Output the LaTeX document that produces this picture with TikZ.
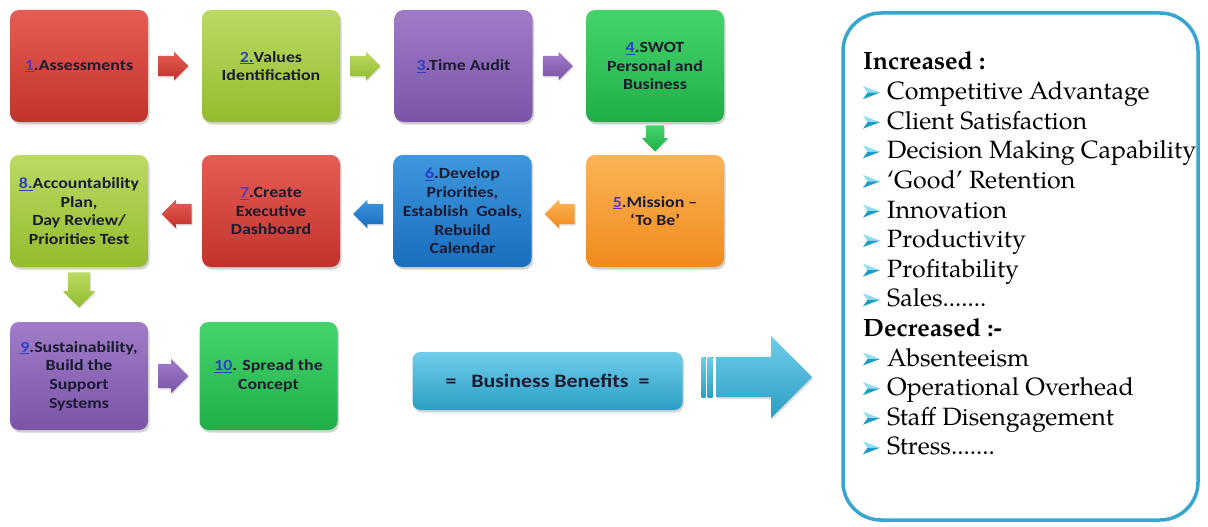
\documentclass[tikz,border=0pt]{standalone}
\usepackage{fontspec}
\newfontfamily\boxfont{Carlito}[FakeStretch=1.15]
\newfontfamily\listfont{texgyrepagella}[Extension=.otf,UprightFont=*-regular,BoldFont=*-bold]
\usetikzlibrary{shapes.arrows,shadows,calc}

% palette
\definecolor{redT}{HTML}{E65D55}\definecolor{redB}{HTML}{C2322C}
\definecolor{limeT}{HTML}{BBDA62}\definecolor{limeB}{HTML}{93BC2E}
\definecolor{violetT}{HTML}{A07CC8}\definecolor{violetB}{HTML}{7B54A8}
\definecolor{greenT}{HTML}{45D46C}\definecolor{greenB}{HTML}{20AE48}
\definecolor{orangeT}{HTML}{FBB457}\definecolor{orangeB}{HTML}{F08A1C}
\definecolor{blueT}{HTML}{3E97DE}\definecolor{blueB}{HTML}{196DBD}
\definecolor{cyanT}{HTML}{70CDEA}\definecolor{cyanB}{HTML}{2A9EC4}
\definecolor{panelline}{HTML}{36A6D0}
\definecolor{boxtext}{HTML}{1A1A30}
\definecolor{linkA}{HTML}{2E3FC8}
\definecolor{linkB}{HTML}{5B36C4}
\definecolor{bulletlight}{HTML}{8FDDF2}
\definecolor{bulletdark}{HTML}{1E9CC8}

\newcommand{\linknum}[2]{\textcolor{#1}{\underline{#2}}}
\newcommand{\dotrun}{.......}
% shaft thickness of a block arrow comes from its (empty) text box
\newcommand{\shaft}[1]{\rule{0pt}{#1}}
\newcommand{\vshaft}[1]{\rule{#1}{0pt}}

\tikzset{
  stepbox/.style={rounded corners=9pt, minimum width=138pt, minimum height=112pt,
    align=center, inner sep=2pt, text=boxtext,
    font=\boxfont\bfseries\fontsize{15.5}{18.7}\selectfont,
    drop shadow={opacity=0.35, shadow xshift=1.5pt, shadow yshift=-2.5pt}},
  redbox/.style={stepbox, top color=redT, bottom color=redB},
  limebox/.style={stepbox, top color=limeT, bottom color=limeB},
  violetbox/.style={stepbox, top color=violetT, bottom color=violetB},
  greenbox/.style={stepbox, top color=greenT, bottom color=greenB},
  orangebox/.style={stepbox, top color=orangeT, bottom color=orangeB},
  bluebox/.style={stepbox, top color=blueT, bottom color=blueB},
  flowarrow/.style={single arrow, single arrow head extend=4pt, minimum height=30pt,
    inner sep=0pt, drop shadow={opacity=0.25, shadow xshift=1pt, shadow yshift=-1.5pt}},
  listitem/.style={anchor=base west, inner sep=0pt, text=black,
    font=\listfont\fontsize{25}{29.6}\selectfont},
  listhead/.style={listitem, font=\listfont\bfseries\fontsize{25}{29.6}\selectfont},
  pics/arrowbullet/.style={code={
    \fill[bulletlight] (0,-6.5) -- (17,0) -- (4.5,0) -- cycle;
    \fill[bulletdark]  (4.5,0) -- (17,0) -- (0,6.5) -- cycle;
  }},
}

\begin{document}
\begin{tikzpicture}[x=1pt,y=-1pt]
\useasboundingbox[fill=white] (0,0) rectangle (1208,527);

% ---- step boxes ----
\node[redbox]    (b1) at (79,66)    {\linknum{linkB}{1}.Assessments};
\node[limebox]   (b2) at (271,66)   {\linknum{linkA}{2.}Values\\Identification};
\node[violetbox] (b3) at (463.5,66) {\linknum{linkA}{3}.Time Audit};
\node[greenbox]  (b4) at (655,66)   {\linknum{linkA}{4}.SWOT\\Personal and\\Business};
\node[orangebox] (b5) at (655,211)  {\linknum{linkB}{5}.Mission –\\‘To Be’};
\node[bluebox]   (b6) at (462.5,211){\linknum{linkA}{6}.Develop\\Priorities,\\Establish~~Goals,\\Rebuild\\Calendar};
\node[redbox]    (b7) at (271,211)  {\linknum{linkB}{7}.Create\\Executive\\Dashboard};
\node[limebox]   (b8) at (79,211)   {\linknum{linkA}{8.}Accountability\\Plan,\\Day Review/\\Priorities Test};
\node[violetbox, minimum height=108pt] (b9)  at (79,376)    {\linknum{linkA}{9}.Sustainability,\\Build the\\Support\\Systems};
\node[greenbox,  minimum height=108pt] (b10) at (268.5,376) {\linknum{linkA}{10}. Spread the\\Concept};

% ---- block arrows between steps (placed by their tails) ----
\node[flowarrow, anchor=tail, top color=redT, bottom color=redB] (a12) at ($(b1.east)+(10,0)$) {\shaft{20pt}};
\node[flowarrow, anchor=tail, top color=limeT, bottom color=limeB] (a23) at ($(b2.east)+(10,0)$) {\shaft{20pt}};
\node[flowarrow, anchor=tail, top color=violetT, bottom color=violetB] (a34) at ($(b3.east)+(10,0)$) {\shaft{20pt}};
\node[flowarrow, anchor=tail, shape border rotate=270, minimum height=26pt, top color=greenT, bottom color=greenB] (a45) at ($(b4.south)+(0,3)$) {\vshaft{18pt}};
\node[flowarrow, anchor=tail, shape border rotate=180, top color=orangeT, bottom color=orangeB] (a56) at ($(b5.west)+(-11,3)$) {\shaft{20pt}};
\node[flowarrow, anchor=tail, shape border rotate=180, top color=blueT, bottom color=blueB] (a67) at ($(b6.west)+(-10,3)$) {\shaft{20pt}};
\node[flowarrow, anchor=tail, shape border rotate=180, top color=redT, bottom color=redB] (a78) at ($(b7.west)+(-10,3)$) {\shaft{20pt}};
\node[flowarrow, anchor=tail, shape border rotate=270, minimum height=35pt, single arrow head extend=5pt, top color=limeT, bottom color=limeB] (a89) at ($(b8.south)+(0,5)$) {\vshaft{22pt}};
\node[flowarrow, anchor=tail, single arrow head extend=5pt, top color=violetT, bottom color=violetB] (a910) at ($(b9.east)+(10,0)$) {\shaft{24pt}};

% ---- business benefits ----
\node[rounded corners=8pt, minimum width=270pt, minimum height=58pt,
      top color=cyanT, bottom color=cyanB, text=boxtext,
      font=\boxfont\bfseries\fontsize{19}{22}\selectfont,
      drop shadow={opacity=0.3, shadow xshift=1.5pt, shadow yshift=-2.5pt}]
  (benefits) at (547.5,381) {=~~~Business Benefits~~=};

% striped big arrow
\fill[top color=cyanT, bottom color=cyanB] (701.5,357) rectangle (705.5,397);
\fill[top color=cyanT, bottom color=cyanB] (707.5,357) rectangle (712.5,397);
\node[single arrow, anchor=tail, single arrow head extend=21pt, minimum height=96pt,
      inner sep=0pt, top color=cyanT, bottom color=cyanB,
      drop shadow={opacity=0.25, shadow xshift=1pt, shadow yshift=-2pt}]
  (bigarrow) at (716,377) {\shaft{40pt}};

% ---- results panel ----
\node[draw=panelline, line width=3.5pt, rounded corners=38pt, fill=white,
      minimum width=355pt, minimum height=507pt] (panel) at (1020.5,266.5) {};

\node[listhead] (h1) at (863,70) {Increased :};
\foreach \txt [count=\i from 1] in {Competitive Advantage, Client Satisfaction,
    Decision Making Capability, ‘Good’ Retention, Innovation, Productivity,
    Profitability, Sales\dotrun}{
  \pic at (863,{70+29.6*\i-7}) {arrowbullet};
  \node[listitem] (ti\i) at (887,{70+29.6*\i}) {\txt};
}
\node[listhead] (h2) at (863,{70+29.6*9}) {Decreased :-};
\foreach \txt [count=\i from 10] in {Absenteeism, Operational Overhead,
    Staff Disengagement, Stress\dotrun}{
  \pic at (863,{70+29.6*\i-7}) {arrowbullet};
  \node[listitem] (td\i) at (887,{70+29.6*\i}) {\txt};
}
\end{tikzpicture}
\end{document}
